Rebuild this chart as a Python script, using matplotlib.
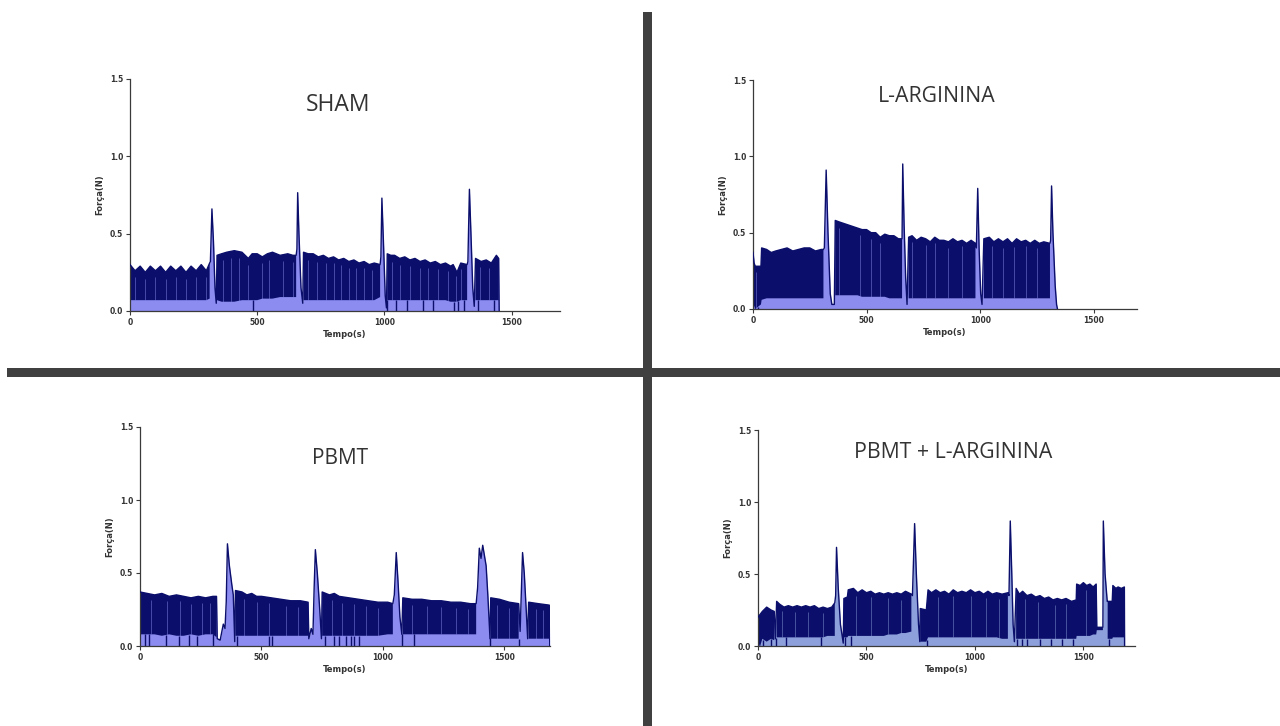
import numpy as np
import matplotlib
matplotlib.use("Agg")
import matplotlib.pyplot as plt
from matplotlib.patches import Rectangle

# ---------------- data ----------------
titles = ["SHAM", "L-ARGININA", "PBMT", "PBMT + L-ARGININA"]
x_ticks = [0, 500, 1000, 1500]
y_ticks = [0.0, 0.5, 1.0, 1.5]
y_ticklabels = ["0.0", "0.5", "1.0", "1.5"]
x_label = "Tempo(s)"
y_label = "Força(N)"
N = None

# SHAM trace: time, upper envelope, lower envelope (None = no contraction band)
sham_t = [0, 20, 40, 60, 80, 100, 120, 140, 160, 180, 200, 220, 240, 260, 280, 300, 313,
          316, 322, 328, 334, 339,
          342, 360, 380, 410, 440, 465, 480, 500, 520, 540, 560, 590, 620, 640, 653,
          656, 659, 664, 672, 679,
          682, 700, 720, 740, 760, 780, 800, 820, 840, 860, 880, 900, 920, 940, 960, 983,
          986, 990, 996, 1003, 1008,
          1011, 1025, 1040, 1060, 1080, 1100, 1120, 1140, 1160, 1180, 1200, 1220, 1240, 1260, 1270, 1285, 1300, 1325,
          1328, 1334, 1340, 1347, 1353,
          1358, 1380, 1400, 1420, 1440, 1449, 1451]
sham_top = [0.30, 0.26, 0.29, 0.25, 0.29, 0.26, 0.29, 0.25, 0.29, 0.26, 0.29, 0.25, 0.29, 0.26, 0.30, 0.26, 0.31,
            0.32, 0.66, 0.45, 0.15, 0.05,
            0.36, 0.37, 0.38, 0.39, 0.38, 0.34, 0.37, 0.37, 0.35, 0.37, 0.38, 0.36, 0.37, 0.36, 0.36,
            0.40, 0.765, 0.50, 0.15, 0.05,
            0.38, 0.37, 0.37, 0.35, 0.36, 0.34, 0.35, 0.33, 0.34, 0.32, 0.33, 0.31, 0.32, 0.30, 0.31, 0.30,
            0.35, 0.73, 0.45, 0.10, 0.02,
            0.37, 0.36, 0.36, 0.34, 0.35, 0.33, 0.34, 0.32, 0.33, 0.31, 0.32, 0.30, 0.31, 0.29, 0.30, 0.25, 0.31, 0.30,
            0.32, 0.787, 0.50, 0.15, 0.03,
            0.34, 0.32, 0.33, 0.31, 0.36, 0.34, 0.0]
sham_low = [0.07, 0.07, 0.07, 0.07, 0.07, 0.07, 0.07, 0.07, 0.07, 0.07, 0.07, 0.07, 0.07, 0.07, 0.07, 0.07, 0.08,
            N, N, N, N, N,
            0.07, 0.06, 0.06, 0.06, 0.07, 0.07, 0.07, 0.07, 0.08, 0.08, 0.08, 0.09, 0.09, 0.09, 0.09,
            N, N, N, N, N,
            0.07, 0.07, 0.07, 0.07, 0.07, 0.07, 0.07, 0.07, 0.07, 0.07, 0.07, 0.07, 0.07, 0.07, 0.07, 0.09,
            N, N, N, N, N,
            0.07, 0.07, 0.07, 0.07, 0.07, 0.07, 0.07, 0.07, 0.07, 0.07, 0.07, 0.07, 0.07, 0.06, 0.06, 0.06, 0.07, 0.07,
            N, N, N, N, N,
            0.07, 0.07, 0.07, 0.07, 0.07, 0.07, N]
sham_dips = [483, 1012, 1045, 1090, 1150, 1190, 1275, 1290, 1312, 1368, 1430]
sham_streaks = [20, 60, 100, 140, 180, 220, 260, 300, 365, 395, 430, 465, 520, 545, 600, 640,
                700, 735, 770, 800, 830, 860, 890, 920, 950, 1030, 1060, 1100, 1140, 1170, 1210,
                1250, 1280, 1300, 1375, 1410]

# L-ARGININA trace
larg_t = [0, 5, 10, 35, 38, 60, 80, 100, 125, 150, 175, 200, 225, 250, 275, 300, 310,
          314, 322, 330, 340, 347, 358,
          362, 380, 400, 420, 440, 460, 480, 500, 520, 540, 560, 580, 600, 620, 640, 656,
          659, 665, 672, 678,
          685, 700, 720, 740, 760, 780, 800, 820, 840, 860, 880, 900, 920, 940, 960, 979,
          983, 989, 995, 1002, 1008,
          1016, 1040, 1060, 1080, 1100, 1120, 1140, 1160, 1180, 1200, 1220, 1240, 1260, 1280, 1307,
          1310, 1314, 1320, 1330, 1336, 1340]
larg_top = [0.37, 0.30, 0.28, 0.28, 0.40, 0.39, 0.37, 0.38, 0.39, 0.40, 0.38, 0.39, 0.40, 0.40, 0.38, 0.39, 0.39,
            0.40, 0.91, 0.50, 0.10, 0.03, 0.03,
            0.58, 0.57, 0.56, 0.55, 0.54, 0.53, 0.52, 0.52, 0.50, 0.50, 0.47, 0.49, 0.48, 0.48, 0.46, 0.46,
            0.95, 0.55, 0.20, 0.03,
            0.47, 0.48, 0.45, 0.47, 0.46, 0.44, 0.47, 0.45, 0.45, 0.44, 0.46, 0.44, 0.45, 0.43, 0.45, 0.43,
            0.40, 0.79, 0.40, 0.10, 0.03,
            0.46, 0.47, 0.44, 0.46, 0.44, 0.46, 0.43, 0.46, 0.44, 0.45, 0.43, 0.45, 0.43, 0.44, 0.43,
            0.45, 0.806, 0.50, 0.15, 0.03, 0.0]
larg_low = [0.05, 0.02, 0.0, 0.03, 0.06, 0.07, 0.07, 0.07, 0.07, 0.07, 0.07, 0.07, 0.07, 0.07, 0.07, 0.07, 0.07,
            N, N, N, N, N, N,
            0.09, 0.09, 0.09, 0.09, 0.09, 0.09, 0.08, 0.08, 0.08, 0.08, 0.08, 0.08, 0.07, 0.07, 0.07, 0.07,
            N, N, N, N,
            0.07, 0.07, 0.07, 0.07, 0.07, 0.07, 0.07, 0.07, 0.07, 0.07, 0.07, 0.07, 0.07, 0.07, 0.07, 0.07,
            N, N, N, N, N,
            0.07, 0.07, 0.07, 0.07, 0.07, 0.07, 0.07, 0.07, 0.07, 0.07, 0.07, 0.07, 0.07, 0.07, 0.07,
            N, N, N, N, N, N]
larg_dips = [8, 20]
larg_streaks = [15, 380, 470, 520, 560, 700, 760, 800, 860, 920, 1050, 1100, 1150, 1200, 1250]

# PBMT trace
pbmt_t = [0, 30, 60, 90, 120, 150, 180, 210, 240, 270, 300, 315,
          318, 330, 343, 350, 355, 360, 368, 378, 384, 390,
          393, 420, 440, 460, 480, 500, 540, 580, 620, 660, 692,
          695, 705, 712, 717, 722, 730, 740, 747,
          750, 780, 800, 820, 860, 900, 940, 980, 1020, 1041,
          1047, 1055, 1062, 1070, 1078,
          1082, 1120, 1160, 1200, 1240, 1280, 1320, 1360, 1384,
          1390, 1397, 1404, 1411, 1418, 1425, 1432, 1441,
          1444, 1480, 1520, 1559,
          1565, 1575, 1582, 1590, 1596,
          1600, 1640, 1685, 1687]
pbmt_top = [0.37, 0.36, 0.35, 0.36, 0.34, 0.35, 0.34, 0.33, 0.34, 0.33, 0.34, 0.34,
            0.05, 0.04, 0.15, 0.12, 0.30, 0.70, 0.55, 0.42, 0.35, 0.03,
            0.38, 0.37, 0.35, 0.36, 0.34, 0.34, 0.33, 0.32, 0.31, 0.31, 0.30,
            0.05, 0.12, 0.08, 0.40, 0.66, 0.50, 0.25, 0.05,
            0.37, 0.35, 0.36, 0.34, 0.33, 0.32, 0.31, 0.30, 0.30, 0.29,
            0.35, 0.64, 0.45, 0.20, 0.08,
            0.33, 0.32, 0.32, 0.31, 0.31, 0.30, 0.30, 0.29, 0.29,
            0.40, 0.67, 0.60, 0.69, 0.62, 0.55, 0.35, 0.05,
            0.33, 0.32, 0.30, 0.29,
            0.10, 0.64, 0.50, 0.25, 0.05,
            0.30, 0.29, 0.28, 0.0]
pbmt_low = [0.08, 0.08, 0.08, 0.07, 0.08, 0.07, 0.07, 0.08, 0.07, 0.08, 0.08, 0.06,
            N, N, N, N, N, N, N, N, N, N,
            0.07, 0.07, 0.07, 0.07, 0.07, 0.07, 0.07, 0.07, 0.07, 0.07, 0.07,
            N, N, N, N, N, N, N, N,
            0.07, 0.07, 0.07, 0.07, 0.07, 0.07, 0.07, 0.07, 0.08, 0.08,
            N, N, N, N, N,
            0.08, 0.08, 0.08, 0.08, 0.08, 0.08, 0.08, 0.08, 0.08,
            N, N, N, N, N, N, N, N,
            0.05, 0.05, 0.05, 0.05,
            N, N, N, N, N,
            0.05, 0.05, 0.05, N]
pbmt_dips = [20, 35, 105, 160, 200, 235, 300, 400, 530, 545, 760, 800, 820, 850, 870, 880, 900, 1080, 1130, 1440, 1560]
pbmt_streaks = [45, 110, 165, 210, 255, 290, 430, 480, 530, 600, 650, 790, 830, 880, 930, 980,
                1120, 1180, 1240, 1300, 1350, 1470, 1520, 1630, 1660]

# PBMT + L-ARGININA trace
pbla_t = [0, 10, 20, 40, 60, 75, 80,
          86, 100, 120, 140, 160, 180, 200, 220, 240, 260, 280, 300, 320, 340, 354,
          358, 362, 370, 380, 393,
          396, 412, 416, 440, 460, 480, 500, 520, 540, 560, 580, 600, 620, 640, 660, 680, 707,
          712, 722, 730, 740, 746,
          748, 776,
          784, 800, 820, 840, 860, 880, 900, 920, 940, 960, 980, 1000, 1020, 1040, 1060, 1080, 1100, 1125, 1152,
          1157, 1163, 1170, 1176, 1182,
          1190, 1205, 1220, 1240, 1260, 1280, 1300, 1320, 1340, 1360, 1380, 1400, 1420, 1445, 1467,
          1469, 1485, 1500, 1515, 1530, 1545, 1559, 1562, 1590,
          1592, 1600, 1610,
          1612, 1633, 1636, 1650, 1660, 1675, 1689, 1690]
pbla_top = [0.20, 0.22, 0.24, 0.27, 0.25, 0.24, 0.05,
            0.31, 0.29, 0.27, 0.28, 0.27, 0.28, 0.27, 0.28, 0.27, 0.28, 0.26, 0.27, 0.26, 0.27, 0.30,
            0.35, 0.685, 0.40, 0.15, 0.02,
            0.33, 0.34, 0.39, 0.40, 0.37, 0.39, 0.37, 0.38, 0.36, 0.37, 0.36, 0.37, 0.36, 0.37, 0.36, 0.38, 0.36,
            0.35, 0.85, 0.50, 0.15, 0.03,
            0.26, 0.25,
            0.39, 0.37, 0.39, 0.37, 0.38, 0.36, 0.39, 0.37, 0.38, 0.37, 0.39, 0.37, 0.38, 0.36, 0.38, 0.36, 0.37, 0.36, 0.37,
            0.35, 0.868, 0.50, 0.15, 0.03,
            0.40, 0.36, 0.38, 0.35, 0.36, 0.34, 0.35, 0.33, 0.34, 0.32, 0.33, 0.32, 0.33, 0.31, 0.32,
            0.43, 0.42, 0.44, 0.42, 0.43, 0.41, 0.43, 0.13, 0.13,
            0.868, 0.50, 0.31,
            0.31, 0.31, 0.42, 0.40, 0.41, 0.40, 0.41, 0.0]
pbla_low = [0.02, 0.0, 0.05, 0.03, 0.05, 0.04, N,
            0.06, 0.06, 0.06, 0.06, 0.06, 0.06, 0.06, 0.06, 0.06, 0.06, 0.06, 0.06, 0.07, 0.07, 0.07,
            N, N, N, N, N,
            0.06, 0.06, 0.07, 0.07, 0.07, 0.07, 0.07, 0.07, 0.07, 0.07, 0.07, 0.08, 0.08, 0.08, 0.09, 0.09, 0.10,
            N, N, N, N, N,
            0.03, 0.03,
            0.06, 0.06, 0.06, 0.06, 0.06, 0.06, 0.06, 0.06, 0.06, 0.06, 0.06, 0.06, 0.06, 0.06, 0.06, 0.06, 0.06, 0.05, 0.05,
            N, N, N, N, N,
            0.05, 0.05, 0.05, 0.05, 0.05, 0.05, 0.05, 0.05, 0.05, 0.05, 0.05, 0.05, 0.05, 0.05, 0.05,
            0.07, 0.07, 0.07, 0.07, 0.07, 0.08, 0.08, 0.11, 0.11,
            N, N, N,
            0.05, 0.05, 0.06, 0.06, 0.06, 0.06, 0.06, N]
pbla_dips = [5, 25, 62, 85, 130, 290, 400, 430, 780, 1195, 1215, 1240, 1300, 1350, 1400, 1450, 1620]
pbla_streaks = [110, 170, 230, 300, 450, 520, 600, 660, 830, 900, 980, 1050, 1110, 1230, 1290, 1370, 1420, 1510]

panels = [
    (sham_t, sham_top, sham_low, sham_dips, sham_streaks),
    (larg_t, larg_top, larg_low, larg_dips, larg_streaks),
    (pbmt_t, pbmt_top, pbmt_low, pbmt_dips, pbmt_streaks),
    (pbla_t, pbla_top, pbla_low, pbla_dips, pbla_streaks),
]

# ---------------- layout / style ----------------
W, H = 1280, 726
# axes boxes in pixels: left, right, top(y=1.5), bottom(y=0)
boxes = [(130, 560, 79, 311), (753, 1137, 80, 309), (140, 550, 427, 646), (758, 1135, 430, 646)]
x_max = [1690, 1690, 1688, 1738]
title_pos = [(338, 105), (937, 96), (340, 459), (953, 452)]
title_size = [16.5, 15.3, 15.0, 15.3]
light_cols = ["#8c8cf0", "#8c8cee", "#8c8cf0", "#8ea0dc"]
navy = "#0b0f6b"

fig = plt.figure(figsize=(W / 100, H / 100), dpi=100)
fig.patch.set_facecolor("white")

for i, ((t, top, low, dips, streaks), (l, r, tp, bt)) in enumerate(zip(panels, boxes)):
    ax = fig.add_axes([l / W, 1 - bt / H, (r - l) / W, (bt - tp) / H])
    t = np.array(t, dtype=float)
    top = np.array(top, dtype=float)
    low = np.array([np.nan if v is None else v for v in low], dtype=float)
    ok = ~np.isnan(low)
    ax.fill_between(t, 0, top, color=light_cols[i], lw=0, zorder=1)
    ax.fill_between(t, low, top, color=navy, lw=0, zorder=2)
    ax.plot(t, top, color=navy, lw=1.0, zorder=3)
    lowi = np.interp(dips, t[ok], low[ok])
    ax.vlines(dips, 0.0, lowi, color=navy, lw=1.0, zorder=2)
    s_low = np.interp(streaks, t[ok], low[ok])
    s_top = np.interp(streaks, t, top)
    ax.vlines(streaks, s_low, s_top - 0.04, color=light_cols[i], lw=0.6, alpha=0.55, zorder=2.5)
    ax.set_xlim(0, x_max[i])
    ax.set_ylim(0, 1.5)
    ax.set_facecolor("none")
    for s in ("top", "right"):
        ax.spines[s].set_visible(False)
    for s in ("left", "bottom"):
        ax.spines[s].set_color("#3a3a3a")
        ax.spines[s].set_linewidth(0.9)
    ax.set_xticks(x_ticks)
    ax.set_xticklabels([str(v) for v in x_ticks])
    ax.set_yticks(y_ticks)
    ax.set_yticklabels(y_ticklabels)
    ax.tick_params(axis="both", direction="out", length=3, width=0.8, color="#3a3a3a",
                   labelsize=5.5, labelcolor="#333333", pad=2)
    for lab in ax.get_xticklabels() + ax.get_yticklabels():
        lab.set_fontweight("bold")
    ax.set_xlabel(x_label, fontsize=6, fontweight="bold", color="#333333", labelpad=2)
    ax.set_ylabel(y_label, fontsize=6, fontweight="bold", color="#333333", labelpad=4)
    tx, ty = title_pos[i]
    fig.text(tx / W, 1 - ty / H, titles[i], ha="center", va="center",
             fontsize=title_size[i], family="Open Sans", color="#333333")

# dividers
fig.add_artist(Rectangle((643 / W, 0), 9 / W, (726 - 12) / H, transform=fig.transFigure,
                         facecolor="#404040", edgecolor="none"))
fig.add_artist(Rectangle((7 / W, 1 - 377 / H), (1280 - 7) / W, 9 / H, transform=fig.transFigure,
                         facecolor="#404040", edgecolor="none"))

fig.savefig("out.png", dpi=100, facecolor="white")
